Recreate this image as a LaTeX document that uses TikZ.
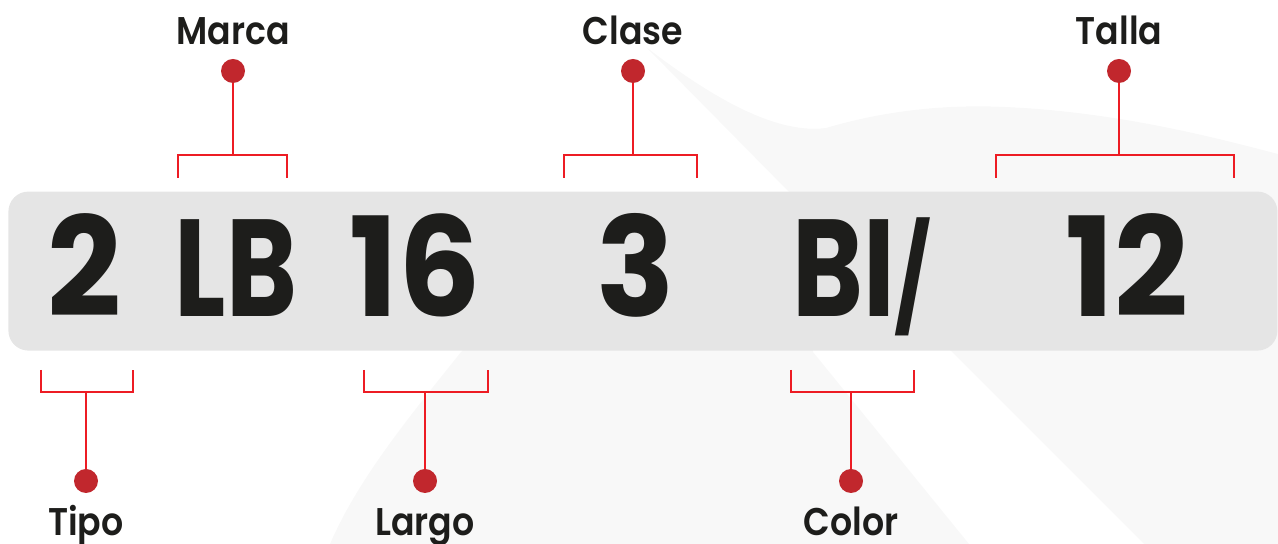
\documentclass[tikz,border=0pt]{standalone}
\usepackage{fontspec}
\setmainfont{Poppins}
\newfontfamily\platedigits{Poppins Bold}[FakeStretch=0.94]
\newfontfamily\plateletters{Poppins Bold}[FakeStretch=0.78]
\newfontfamily\labelfont{Poppins SemiBold}[FakeStretch=0.9]
\usetikzlibrary{positioning}
\definecolor{plate}{HTML}{E5E5E5}
\definecolor{swoosh}{HTML}{F8F8F8}
\definecolor{ink}{HTML}{1D1D1B}
\definecolor{braceRed}{HTML}{ED1C24}
\definecolor{dotRed}{HTML}{C1272D}

\begin{document}
\begin{tikzpicture}[x=0.5pt,y=0.5pt]
    \tikzstyle{every node}=[text=ink]
    \tikzstyle{code}=[font=\fontsize{69}{69}\selectfont\platedigits,inner sep=0pt,anchor=base]
    \tikzstyle{lbl}=[font=\fontsize{19.3}{20}\selectfont\labelfont,inner sep=0pt,text height=13.5pt,text depth=0pt]
    \tikzstyle{dot}=[circle,fill=dotRed,inner sep=0pt,minimum size=12pt]
    \tikzstyle{redline}=[draw=braceRed,line width=1.3pt]

    \useasboundingbox (0,0) rectangle (1278,544);

    % faint sweep behind the plate
    \fill[swoosh] (646,497) .. controls (720,440) and (780,410) .. (826,416)
                  .. controls (880,432) and (940,440) .. (1005,437)
                  .. controls (1120,432) and (1220,405) .. (1278,390)
                  -- (1278,0) -- (1144,0) -- (952,192) -- (789,352) -- cycle ;
    \fill[swoosh] (470,200) -- (461,192) .. controls (420,140) and (360,70) .. (330,0)
                  -- (969,0) -- (813,192) -- (813,200) -- cycle ;

    \node[fill=plate,rounded corners=10pt,minimum width=634.5pt,minimum height=79.5pt,anchor=south west] (plate) at (8,193) {} ;

    \node[code] (ctipo)  at (85,227)   {2} ;
    \node[code] (cmarca) at (236,227)  {\plateletters LB} ;
    \node[code] (clargo) at (415,227)  {16} ;
    \node[code] (cclase) at (636,227)  {3} ;
    \node[code] (ccolor) at (862,227)  {\plateletters BI\fontsize{52}{52}\selectfont/} ;
    \node[code] (ctalla) at (1127,227) {12} ;

    \node[dot] (marcadot) at (233,473)  {} ;
    \node[dot] (clasedot) at (633,473)  {} ;
    \node[dot] (talladot) at (1119,473) {} ;
    \node[dot] (tipodot)  at (86,63)    {} ;
    \node[dot] (largodot) at (425,63)   {} ;
    \node[dot] (colordot) at (851,63)   {} ;

    \node[lbl,above=7pt of marcadot] (marca) {Marca} ;
    \node[lbl,above=7pt of clasedot] (clase) {Clase} ;
    \node[lbl,above=7pt of talladot] (talla) {Talla} ;
    \node[lbl,below=7.5pt of tipodot]  (tipo)  {Tipo} ;
    \node[lbl,below=7.5pt of largodot] (largo) {Largo} ;
    \node[lbl,below=7.5pt of colordot] (color) {Color} ;

    \newcommand{\codebrace}[5]{%
      \coordinate (barline) at (0,#5) ;
      \draw[redline] (#2,#4) -- (#2,#5) -- (#3,#5) -- (#3,#4) ;
      \draw[redline] (#1) -- (#1 |- barline) ;}

    \codebrace{marcadot}{178}{287}{366}{389}
    \codebrace{clasedot}{564}{697}{366}{389}
    \codebrace{talladot}{996}{1234}{366}{389}
    \codebrace{tipodot}{41}{133}{174}{152}
    \codebrace{largodot}{364}{488}{174}{152}
    \codebrace{colordot}{791}{914}{174}{152}

\end{tikzpicture}
\end{document}
